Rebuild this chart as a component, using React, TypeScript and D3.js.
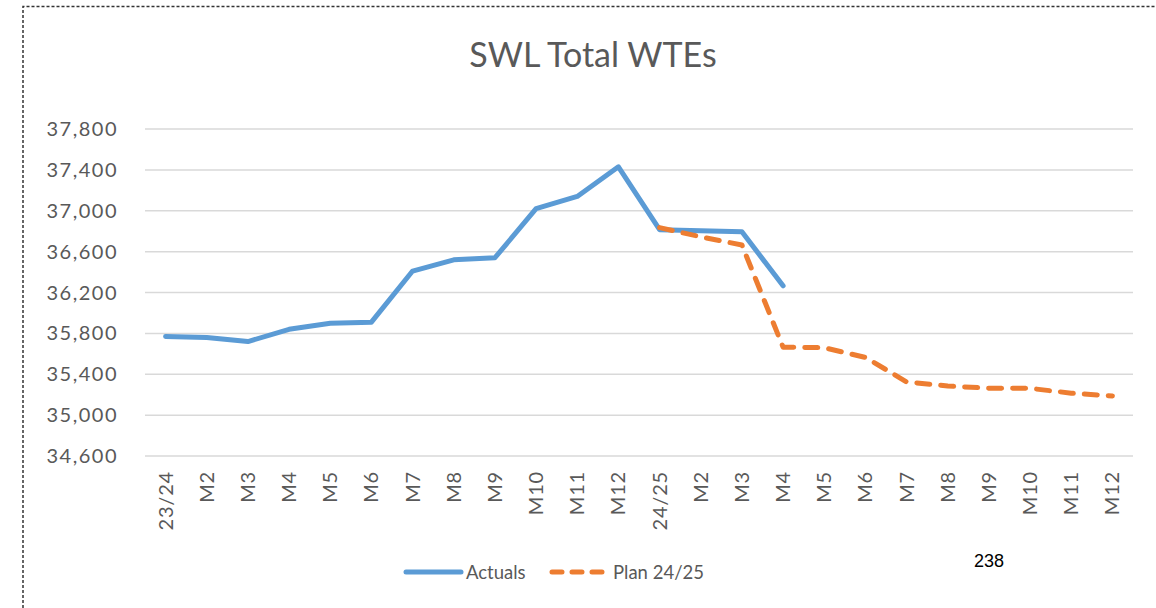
import React, { useEffect, useRef } from 'react';
import * as d3 from 'd3';

const categories = [
  '23/24', 'M2', 'M3', 'M4', 'M5', 'M6', 'M7', 'M8', 'M9', 'M10', 'M11', 'M12',
  '24/25', 'M2 ', 'M3 ', 'M4 ', 'M5 ', 'M6 ', 'M7 ', 'M8 ', 'M9 ', 'M10 ', 'M11 ', 'M12 ',
];
const actuals = [
  35770, 35760, 35720, 35840, 35900, 35910, 36410, 36520, 36540, 37020, 37140, 37430,
  36815, 36805, 36795, 36265,
];
const plan = [
  null, null, null, null, null, null, null, null, null, null, null, null,
  36835, 36745, 36665, 35665, 35660, 35565, 35325, 35285, 35264, 35262, 35215, 35188,
];
const yTicks = [34600, 35000, 35400, 35800, 36200, 36600, 37000, 37400, 37800];

const W = 1156;
const H = 608;
const font = 'Lato, "Open Sans", sans-serif';
const textGrey = '#595959';

export default function App() {
  const ref = useRef<SVGSVGElement>(null);

  useEffect(() => {
    const svg = d3.select(ref.current);
    svg.selectAll('*').remove();

    const x = d3.scaleBand().domain(categories).range([145, 1133]);
    const y = d3.scaleLinear().domain([34600, 37800]).range([456, 129]);
    const cx = (c: string) => (x(c) as number) + x.bandwidth() / 2;

    svg.append('rect').attr('width', W).attr('height', H).attr('fill', '#fff');

    // dashed frame of the clipped screenshot
    svg.append('path')
      .attr('d', `M23,${H} L23,6.5 L${W},6.5`)
      .attr('fill', 'none')
      .attr('stroke', '#333')
      .attr('stroke-width', 1.5)
      .attr('stroke-dasharray', '3,2');

    svg.append('text')
      .attr('x', 593).attr('y', 67)
      .attr('text-anchor', 'middle')
      .attr('font-family', font)
      .attr('font-size', 34)
      .attr('fill', textGrey)
      .text('SWL Total WTEs');

    // gridlines
    svg.append('g').selectAll('line')
      .data(yTicks)
      .enter().append('line')
      .attr('x1', 145).attr('x2', 1133)
      .attr('y1', d => y(d)).attr('y2', d => y(d))
      .attr('stroke', '#d9d9d9')
      .attr('stroke-width', 1.5);

    const fmt = d3.format(',');
    svg.append('g').selectAll('text')
      .data(yTicks)
      .enter().append('text')
      .attr('x', 118).attr('y', d => y(d) + 7)
      .attr('text-anchor', 'end')
      .attr('font-family', font)
      .attr('font-size', 20)
      .attr('letter-spacing', 1.5)
      .attr('fill', textGrey)
      .text(d => fmt(d));

    svg.append('g').selectAll('text')
      .data(categories)
      .enter().append('text')
      .attr('transform', d => `translate(${cx(d) + 7},471) rotate(-90)`)
      .attr('text-anchor', 'end')
      .attr('font-family', font)
      .attr('font-size', 20)
      .attr('letter-spacing', 0.8)
      .attr('fill', textGrey)
      .text(d => d.trim());

    const line = d3.line<number | null>()
      .defined(d => d != null)
      .x((_, i) => cx(categories[i]))
      .y(d => y(d as number));

    svg.append('path')
      .datum(actuals)
      .attr('d', line)
      .attr('fill', 'none')
      .attr('stroke', '#5B9BD5')
      .attr('stroke-width', 5)
      .attr('stroke-linejoin', 'round')
      .attr('stroke-linecap', 'round');

    svg.append('path')
      .datum(plan)
      .attr('d', line)
      .attr('fill', 'none')
      .attr('stroke', '#ED7D31')
      .attr('stroke-width', 5)
      .attr('stroke-dasharray', '13,11')
      .attr('stroke-linejoin', 'round')
      .attr('stroke-linecap', 'round');

    // legend
    const lg = svg.append('g').attr('font-family', font).attr('font-size', 18.5).attr('fill', textGrey);
    lg.append('line').attr('x1', 406).attr('x2', 461).attr('y1', 572).attr('y2', 572)
      .attr('stroke', '#5B9BD5').attr('stroke-width', 5).attr('stroke-linecap', 'round');
    lg.append('text').attr('x', 466).attr('y', 579).text('Actuals');
    lg.append('line').attr('x1', 552).attr('x2', 605).attr('y1', 572).attr('y2', 572)
      .attr('stroke', '#ED7D31').attr('stroke-width', 5).attr('stroke-linecap', 'round')
      .attr('stroke-dasharray', '10,10');
    lg.append('text').attr('x', 613).attr('y', 579).text('Plan 24/25');

    svg.append('text')
      .attr('x', 974).attr('y', 567)
      .attr('font-family', 'Liberation Sans, Arial, sans-serif')
      .attr('font-size', 18)
      .attr('fill', '#000')
      .text('238');
  }, []);

  return (
    <svg ref={ref} width={W} height={H} style={{ position: 'absolute', left: 0, top: 0 }} />
  );
}
